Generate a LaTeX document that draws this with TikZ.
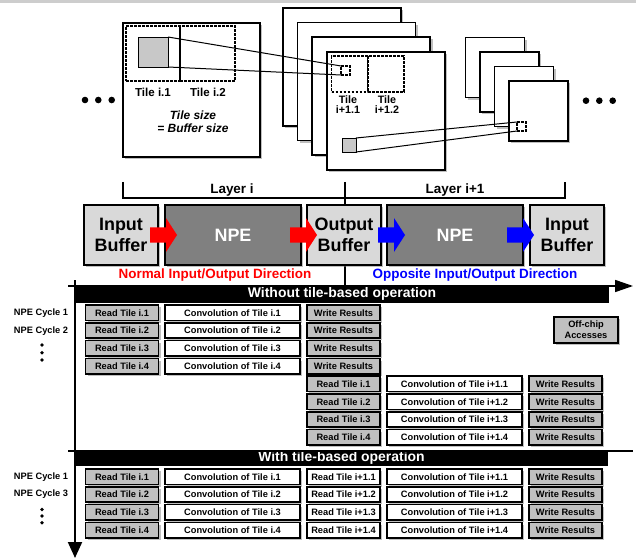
\documentclass[tikz,border=0pt]{standalone}
\usepackage{fontspec}
\setmainfont{Liberation Sans}
\usetikzlibrary{arrows.meta,shadows,calc}

\definecolor{bufgray}{HTML}{D9D9D9}
\definecolor{npegray}{HTML}{808080}
\definecolor{opgray}{HTML}{C0C0C0}
\definecolor{rfgray}{HTML}{C8C8C8}
\definecolor{bandgray}{HTML}{CDCDCD}

\begin{document}
\begin{tikzpicture}[x=1bp,y=-1bp,
  every node/.style={inner sep=0pt, outer sep=0pt},
  shade/.style={drop shadow={shadow xshift=2.2bp,shadow yshift=-2.2bp,fill=black!50}},
  fmap/.style={draw, fill=white, line width=1.7bp, shade},
  tilebox/.style={draw, dash pattern=on 2.6bp off 1.4bp, line width=1.3bp},
  rfield/.style={draw, fill=rfgray, line width=0.9bp},
  buf/.style={draw, line width=2bp, fill=bufgray, shade, minimum width=74bp,
    minimum height=60bp, align=center, font=\fontsize{18}{21}\selectfont\bfseries},
  npe/.style={buf, fill=npegray, text=white, minimum width=136bp},
  opbox/.style={draw, line width=1.6bp, fill=opgray, shade, minimum width=73bp,
    minimum height=15.5bp, font=\fontsize{9.3}{10}\selectfont\bfseries},
  convbox/.style={opbox, fill=white, minimum width=135bp},
  bar/.style={fill=black, text=white, font=\fontsize{14}{16}\selectfont\bfseries},
  lbl/.style={font=\fontsize{11.6}{13}\selectfont\bfseries, align=center},
  cyc/.style={font=\fontsize{9.3}{10}\selectfont\bfseries},
  blockarrow/.pic={\fill[pic actions] (-27,-7.5) -- (-11,-7.5) -- (-11,-17) -- (0,0)
    -- (-11,17) -- (-11,7.5) -- (-27,7.5) -- cycle;}
]
\useasboundingbox (0,0) rectangle (636,560);
\fill[bandgray] (0,0) rectangle (636,3);

% ---- feature maps of layer i ----
\node[fmap, minimum width=137bp, minimum height=134bp] (mapi) at (191.5,90) {};
\node[tilebox, minimum width=54bp, minimum height=55bp] (ti1) at (153,53.5) {};
\node[tilebox, minimum width=55bp, minimum height=55bp] (ti2) at (207.5,53.5) {};
\node[rfield, minimum size=30bp] (rf1) at (153,52) {};
\node[lbl] (lti1) at (153,92) {Tile i.1};
\node[lbl] (lti2) at (208,92) {Tile i.2};
\node[lbl, font=\fontsize{12}{13}\selectfont\bfseries\itshape] (tsz) at (193,121.5)
  {Tile size\\= Buffer size};

% ---- feature maps of layer i+1 ----
\node[fmap, minimum size=118bp] (mj4) at (341.9,66.9) {};
\node[fmap, minimum size=118bp] (mj3) at (356.6,81.6) {};
\node[fmap, minimum size=118bp] (mj2) at (371.3,96.3) {};
\node[fmap, minimum size=118bp] (mj1) at (386,111) {};
\node[tilebox, minimum size=36bp] (tj1) at (349.5,74) {};
\node[tilebox, minimum size=36bp] (tj2) at (386,74) {};
\node[tilebox, minimum size=9bp] (win1) at (345.5,70.5) {};
\node[rfield, minimum size=14bp] (rf2) at (349,145) {};
\node[lbl, font=\fontsize{10.8}{10}\selectfont\bfseries] (ltj1) at (348,105) {Tile\\i+1.1};
\node[lbl, font=\fontsize{10.8}{10}\selectfont\bfseries] (ltj2) at (387,105) {Tile\\i+1.2};

% ---- feature maps of layer i+2 ----
\node[fmap, minimum width=59bp, minimum height=60bp] (mk4) at (495,67.5) {};
\node[fmap, minimum width=59bp, minimum height=60bp] (mk3) at (509.5,82) {};
\node[fmap, minimum width=59bp, minimum height=60bp] (mk2) at (524,96.5) {};
\node[fmap, minimum width=59bp, minimum height=60bp] (mk1) at (538.5,111) {};
\node[tilebox, minimum size=9bp] (win2) at (521.5,126.5) {};

% receptive field projections
\draw[line width=1bp] (rf1.north east) -- (win1.north west);
\draw[line width=1bp] (rf1.south east) -- (win1.south west);
\draw[line width=1bp] (rf2.north east) -- (win2.north west);
\draw[line width=1bp] (rf2.south east) -- (win2.south west);

% continuation dots
\foreach \x in {85,98.3,111.7} \fill (\x,100) circle[radius=3.3];
\foreach \x in {586,599.3,612.7} \fill (\x,100.7) circle[radius=3.3];

% ---- layer brackets ----
\draw[line width=1.3bp] (123,182) -- (123,198) -- (565,198) -- (565,182);
\draw[line width=1.3bp] (345,182) -- (345,286);
\node[font=\fontsize{13.5}{15}\selectfont\bfseries] (li) at (232,190) {Layer i};
\node[font=\fontsize{13.5}{15}\selectfont\bfseries] (lj) at (455,190) {Layer i+1};

% ---- buffers and processing engines ----
\node[buf] (ib1) at (121,235) {Input\\Buffer};
\node[npe] (npe1) at (233,235) {NPE};
\node[buf] (ob) at (344,235) {Output\\Buffer};
\node[npe] (npe2) at (455,235) {NPE};
\node[buf] (ib2) at (567,235) {Input\\Buffer};
\pic[fill=red, shade] at ([xshift=12bp]npe1.west) {blockarrow};
\pic[fill=red, shade] at ([xshift=10bp]ob.west) {blockarrow};
\pic[fill=blue, shade] at ([xshift=18bp]npe2.west) {blockarrow};
\pic[fill=blue, shade] at ([xshift=4bp]ib2.west) {blockarrow};
\node[text=red, font=\fontsize{13.5}{15}\selectfont\bfseries] (dn) at (215,275)
  {Normal Input/Output Direction};
\node[text=blue, font=\fontsize{13.5}{15}\selectfont\bfseries] (dopp) at (475,275)
  {Opposite Input/Output Direction};

% ---- time axes ----
\draw[line width=2bp, -{Triangle[length=16bp,width=14bp]}] (75,280) -- (75,558);
\node[bar, minimum width=534bp, minimum height=18bp] (bar1) at (342,294) {Without tile-based operation};
\node[bar, minimum width=533bp, minimum height=15bp] (bar2) at (341.5,458) {With tile-based operation};
\draw[line width=1.6bp, -{Triangle[length=18bp,width=12bp]}] (68,286) -- (633,286);
\draw[line width=1.6bp] (68,451) -- (633,451);

% ---- schedule without tiling ----
\node[cyc] (c1) at (41,313) {NPE Cycle 1};
\node[cyc] (c2) at (41,331) {NPE Cycle 2};
\foreach \y in {345,352.7,360} \fill (42,\y) circle[radius=1.8];
\foreach \k/\y in {1/312.7,2/330.5,3/348.3,4/366.1} {
  \node[opbox] (a\k) at (122,\y) {Read Tile i.\k};
  \node[convbox] (b\k) at (232.5,\y) {Convolution of Tile i.\k};
  \node[opbox] (c\k) at (343.5,\y) {Write Results};
}
\foreach \k/\y in {1/383.9,2/401.7,3/419.5,4/437.3} {
  \node[opbox] (d\k) at (343.5,\y) {Read Tile i.\k};
  \node[convbox] (e\k) at (454.5,\y) {Convolution of Tile i+1.\k};
  \node[opbox] (f\k) at (565.5,\y) {Write Results};
}
\node[opbox, minimum width=64bp, minimum height=26bp, align=center,
  font=\fontsize{9.3}{11}\selectfont\bfseries] (leg) at (586,330) {Off-chip\\Accesses};

% ---- schedule with tiling ----
\node[cyc] (c3) at (41,477) {NPE Cycle 1};
\node[cyc] (c4) at (41,494.5) {NPE Cycle 3};
\foreach \y in {509.5,516,522.7} \fill (42,\y) circle[radius=1.8];
\foreach \k/\y in {1/476.7,2/494.5,3/512.3,4/530.1} {
  \node[opbox] (g\k) at (122,\y) {Read Tile i.\k};
  \node[convbox] (h\k) at (232.5,\y) {Convolution of Tile i.\k};
  \node[convbox, minimum width=73bp] (j\k) at (343.5,\y) {Read Tile i+1.\k};
  \node[convbox] (m\k) at (454.5,\y) {Convolution of Tile i+1.\k};
  \node[opbox] (n\k) at (565.5,\y) {Write Results};
}
\end{tikzpicture}
\end{document}
